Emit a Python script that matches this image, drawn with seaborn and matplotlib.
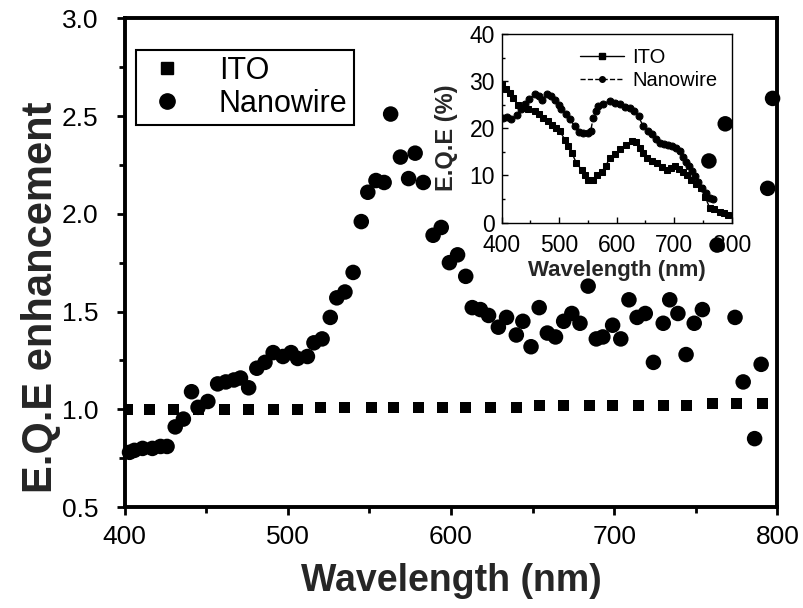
import matplotlib
matplotlib.use("Agg")
import matplotlib.pyplot as plt
from matplotlib.ticker import MultipleLocator, FormatStrFormatter
from matplotlib.lines import Line2D
import seaborn as sns
import pandas as pd

# ---------------- data ----------------
ito_wl = [401.8, 415, 430, 445, 461, 476, 491, 506, 520, 535, 551, 565, 580, 595,
          609, 624, 640, 654, 669, 685, 699, 715, 730, 744, 760, 775, 791]
ito_enh = [1.00, 1.00, 1.00, 1.00, 1.00, 1.00, 1.00, 1.00, 1.01, 1.01, 1.01, 1.01, 1.01, 1.01,
           1.01, 1.01, 1.01, 1.02, 1.02, 1.02, 1.02, 1.02, 1.02, 1.02, 1.03, 1.03, 1.03]

nw_wl = [403, 406, 411, 417, 422, 426, 431, 436, 441, 445, 451, 457, 462, 467, 471, 476,
         481, 486, 491, 497, 502, 506, 512, 516, 521, 526, 530, 535, 540, 545, 549, 554,
         559, 563, 569, 574, 578, 583, 589, 594, 599, 604, 609, 613, 618, 623, 629, 634,
         640, 644, 649, 654, 659, 664, 669, 674, 679, 684, 689, 693, 699, 704, 709, 714,
         719, 724, 730, 734, 739, 744, 749, 754, 758, 763, 768, 774, 779, 786, 790, 794, 797]
nw_enh = [0.78, 0.79, 0.80, 0.80, 0.81, 0.81, 0.91, 0.95, 1.09, 1.01, 1.04, 1.13, 1.14, 1.15,
          1.16, 1.11, 1.21, 1.24, 1.29, 1.27, 1.29, 1.26, 1.27, 1.34, 1.36, 1.47, 1.57, 1.60,
          1.70, 1.96, 2.11, 2.17, 2.16, 2.51, 2.29, 2.18, 2.31, 2.16, 1.89, 1.93, 1.75, 1.79,
          1.68, 1.52, 1.51, 1.48, 1.42, 1.47, 1.38, 1.45, 1.32, 1.52, 1.39, 1.37, 1.45, 1.49,
          1.44, 1.63, 1.36, 1.37, 1.43, 1.36, 1.56, 1.47, 1.49, 1.24, 1.44, 1.56, 1.49, 1.28,
          1.44, 1.51, 2.27, 1.84, 2.46, 1.47, 1.14, 0.85, 1.23, 2.13, 2.59]

# inset: E.Q.E (%)
in_ito_wl = [400, 407, 414, 420, 428, 435, 446, 458, 465, 472, 480, 487, 494, 501, 510, 516,
             522, 530, 539, 545, 551, 559, 566, 574, 581, 588, 597, 606, 616, 626, 633, 640,
             646, 652, 661, 670, 678, 687, 694, 701, 709, 716, 723, 730, 738, 747, 754, 762,
             770, 779, 787, 794]
in_ito_eqe = [29.3, 28.3, 27.5, 26.5, 25.0, 24.3, 24.0, 23.6, 23.0, 22.2, 21.5, 20.8, 20.0,
              19.4, 17.6, 16.2, 14.8, 12.6, 11.2, 10.0, 9.1, 9.1, 10.0, 10.8, 12.0, 13.7, 14.5,
              15.5, 16.5, 17.2, 17.0, 15.8, 14.8, 13.7, 13.0, 12.6, 11.8, 11.2, 11.6, 11.9, 11.3,
              10.8, 10.0, 9.1, 8.2, 7.3, 5.5, 3.0, 2.8, 2.3, 2.0, 1.6]
in_nw_wl = [403, 410, 417, 426, 433, 440, 448, 458, 465, 470, 478, 486, 493, 499, 504, 512,
            519, 527, 535, 542, 551, 555, 559, 564, 568, 576, 588, 597, 606, 614, 623, 631,
            638, 646, 654, 661, 668, 675, 683, 690, 697, 704, 711, 716, 721, 725, 731, 736,
            742, 748, 755, 762, 768]
in_nw_eqe = [22.2, 22.5, 21.9, 22.9, 24.0, 25.1, 26.3, 27.2, 26.8, 26.1, 27.2, 26.8, 26.1,
             25.0, 24.0, 23.0, 21.9, 20.4, 19.2, 18.9, 19.0, 19.5, 22.2, 23.6, 24.7, 25.2, 25.8,
             25.4, 25.1, 24.6, 24.3, 23.6, 22.6, 20.4, 19.5, 18.7, 17.8, 16.9, 16.7, 16.5, 16.2,
             15.8, 15.2, 14.0, 12.8, 11.9, 11.0, 9.8, 8.6, 7.3, 6.2, 5.2, 5.0]

labels = ["ITO", "Nanowire"]
x_ticks = [400, 500, 600, 700, 800]

# ---------------- style ----------------
sns.set_theme(style="ticks")
plt.rcParams["font.family"] = ["Liberation Sans", "DejaVu Sans"]
plt.rcParams["axes.edgecolor"] = "black"
plt.rcParams["xtick.color"] = "black"
plt.rcParams["ytick.color"] = "black"
plt.rcParams["text.color"] = "black"

fig = plt.figure(figsize=(8.04, 6.08), dpi=100)
ax = fig.add_axes([0.155, 0.166, 0.812, 0.804])

main_ito = pd.DataFrame({"wl": ito_wl, "enh": ito_enh})
main_nw = pd.DataFrame({"wl": nw_wl, "enh": nw_enh})

sns.scatterplot(data=main_ito, x="wl", y="enh", marker="s", s=62, color="black",
                edgecolor="none", ax=ax, clip_on=True, zorder=3)
sns.scatterplot(data=main_nw, x="wl", y="enh", marker="o", s=125, color="black",
                edgecolor="none", ax=ax, clip_on=False, zorder=3)

ax.set_xlim(400, 800)
ax.set_ylim(0.5, 3.0)
ax.xaxis.set_major_locator(MultipleLocator(100))
ax.xaxis.set_minor_locator(MultipleLocator(50))
ax.yaxis.set_major_locator(MultipleLocator(0.5))
ax.yaxis.set_minor_locator(MultipleLocator(0.25))
ax.yaxis.set_major_formatter(FormatStrFormatter("%.1f"))
ax.tick_params(which="major", direction="out", length=6, width=2, labelsize=19)
ax.tick_params(axis="x", which="major", pad=7)
ax.tick_params(axis="y", which="major", pad=13)
ax.tick_params(which="minor", direction="out", length=4, width=2)
for sp in ax.spines.values():
    sp.set_visible(True)
    sp.set_linewidth(2.8)
    sp.set_color("black")
ax.set_xlabel("Wavelength (nm)", fontsize=27, fontweight="bold", labelpad=10)
ax.set_ylabel("E.Q.E enhancement", fontsize=30, fontweight="bold")
ax.yaxis.set_label_coords(-0.098, 0.43)

h_main = [Line2D([], [], marker="s", color="black", ls="none", markersize=8),
          Line2D([], [], marker="o", color="black", ls="none", markersize=11)]
leg = ax.legend(h_main, labels, loc="upper left", bbox_to_anchor=(0.018, 0.935),
                borderaxespad=0, fontsize=22, frameon=True, fancybox=False,
                edgecolor="black", framealpha=1, handletextpad=0.9, borderpad=0.2,
                labelspacing=0.1, handlelength=1.6)
leg.get_frame().set_linewidth(1.5)

# ---------------- inset ----------------
ax_in = fig.add_axes([0.624, 0.634, 0.286, 0.310])
ax_in.patch.set_alpha(0)
sns.lineplot(x=in_ito_wl, y=in_ito_eqe, ax=ax_in, color="black", lw=1.0, ls="-",
             marker="s", markersize=5, markeredgecolor="black")
sns.lineplot(x=in_nw_wl, y=in_nw_eqe, ax=ax_in, color="black", lw=1.0, ls="--",
             marker="o", markersize=5, markeredgecolor="black")
ax_in.set_xlim(400, 800)
ax_in.set_ylim(0, 40)
ax_in.set_xticks(x_ticks)
ax_in.xaxis.set_minor_locator(MultipleLocator(50))
ax_in.yaxis.set_major_locator(MultipleLocator(10))
ax_in.yaxis.set_minor_locator(MultipleLocator(5))
ax_in.tick_params(which="major", direction="in", length=4, width=1, labelsize=16.5)
ax_in.tick_params(axis="x", which="major", pad=8.5)
ax_in.tick_params(axis="y", which="major", pad=5)
ax_in.tick_params(which="minor", direction="in", length=2.5, width=1)
for sp in ax_in.spines.values():
    sp.set_visible(True)
    sp.set_linewidth(1.0)
    sp.set_color("black")
ax_in.set_xlabel("Wavelength (nm)", fontsize=16, fontweight="bold", labelpad=2)
ax_in.set_ylabel("E.Q.E (%)", fontsize=17, fontweight="bold")
ax_in.yaxis.set_label_coords(-0.19, 0.45)
h_in = [Line2D([], [], marker="s", color="black", ls="-", lw=1, markersize=4),
        Line2D([], [], marker="o", color="black", ls="--", lw=1, markersize=4)]
ax_in.legend(h_in, labels, loc="upper right", fontsize=14.5, frameon=False,
             handlelength=2.2, handletextpad=0.4, borderpad=0.2, labelspacing=0.2)

fig.savefig("out.png", dpi=100)
